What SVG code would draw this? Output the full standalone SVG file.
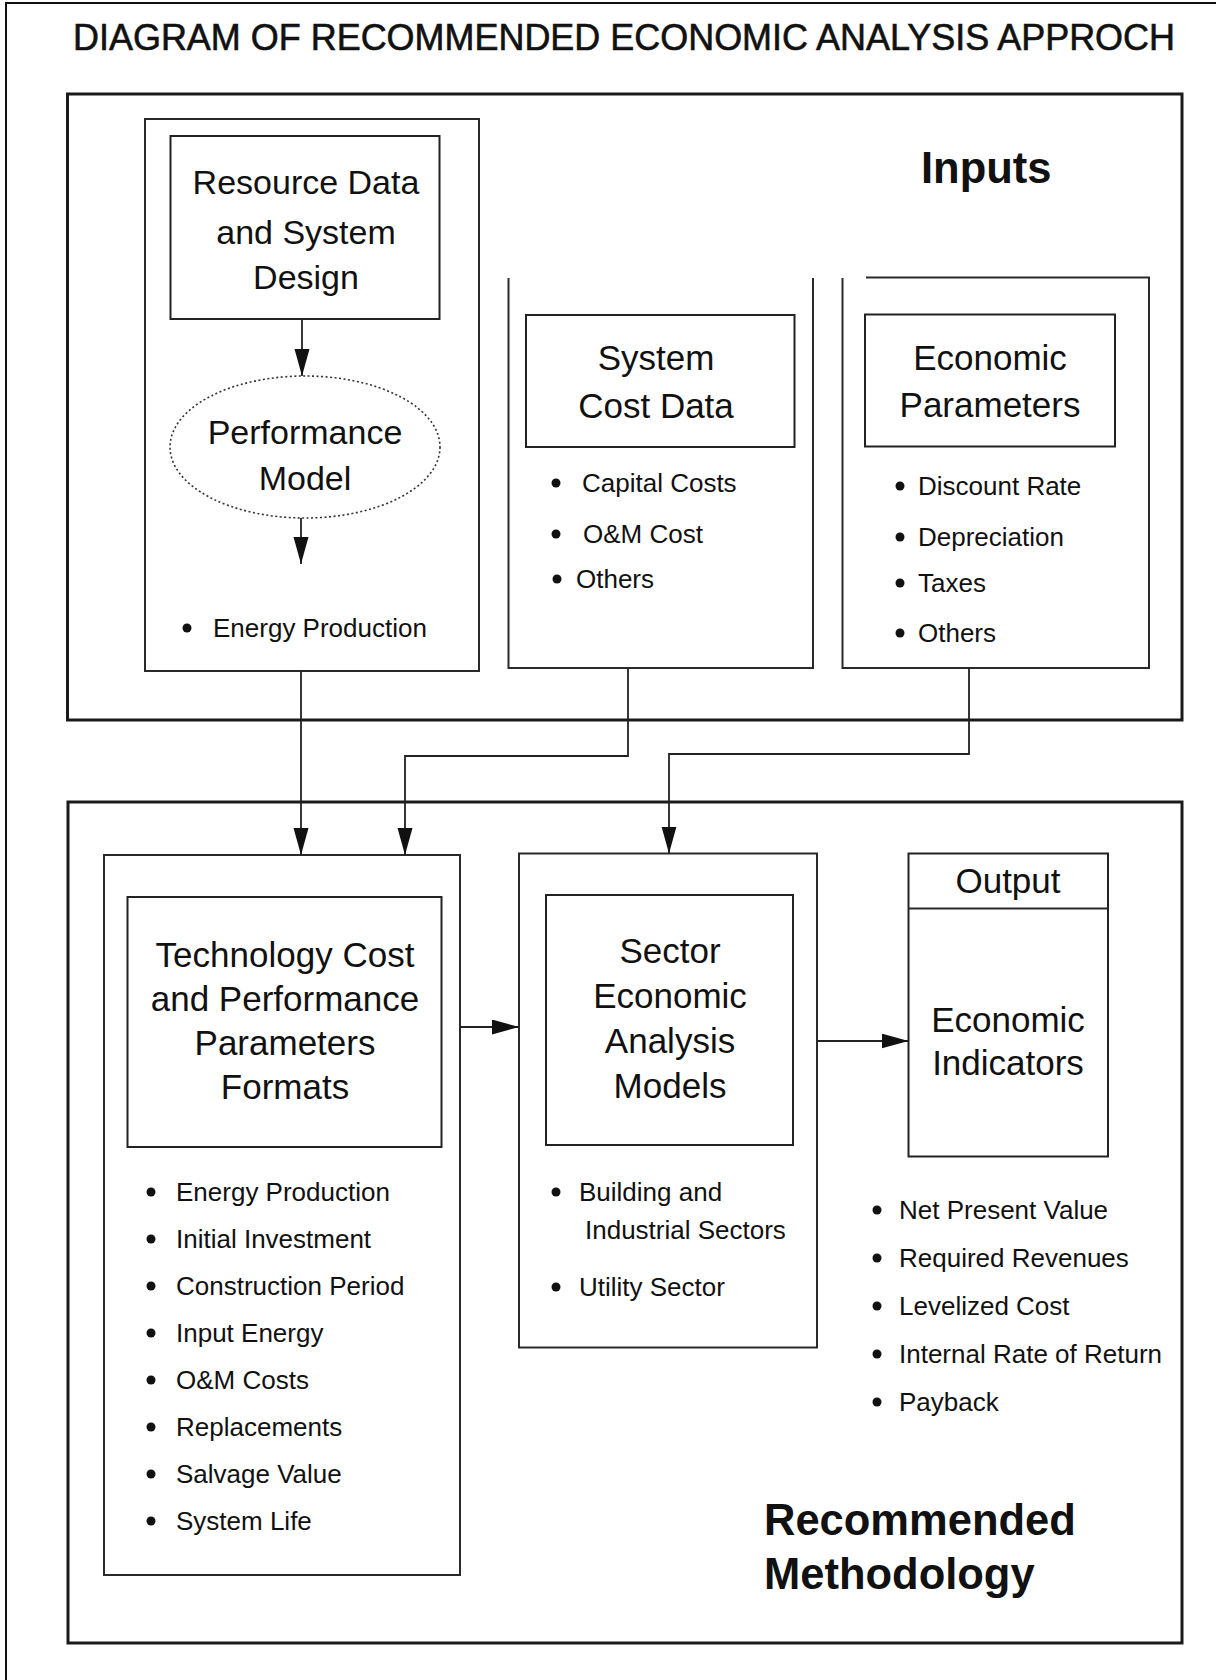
<svg xmlns="http://www.w3.org/2000/svg" width="1216" height="1680" viewBox="0 0 1216 1680">
  <defs>
    <style>
      .bg { fill: #ffffff; }
      .frame { fill: none; stroke: #111; stroke-width: 2; }
      .panel { fill: none; stroke: #1a1a1a; stroke-width: 3; }
      .col { fill: none; stroke: #2a2a2a; stroke-width: 2; }
      .box { fill: #ffffff; stroke: #222; stroke-width: 2; }
      .oval { fill: #ffffff; stroke: #333; stroke-width: 1.6; stroke-dasharray: 2 2.5; }
      .wire { fill: none; stroke: #222; stroke-width: 1.8; }
      text { font-family: "Liberation Sans", Arial, Helvetica, sans-serif; fill: #111; }
      .title { font-size: 37px; stroke: #111; stroke-width: 0.6; }
      .label { font-size: 35px; text-anchor: middle; }
      .label34 { font-size: 34px; text-anchor: middle; }
      .item { font-size: 26px; }
      .head { font-size: 43.5px; font-weight: bold; }
      .dot { fill: #111; }
    </style>
    <marker id="arrow" markerUnits="userSpaceOnUse" markerWidth="28" markerHeight="16" refX="27" refY="7.5" orient="auto">
      <path d="M0,0 L27,7.5 L0,15 z" fill="#111"/>
    </marker>
  </defs>

  <rect class="bg" x="0" y="0" width="1216" height="1680"/>

  <!-- page frame (top and left edges) -->
  <path class="frame" d="M6,1680 V3 H1216"/>

  <text class="title" x="73" y="50" textLength="1102" lengthAdjust="spacingAndGlyphs">DIAGRAM OF RECOMMENDED ECONOMIC ANALYSIS APPROCH</text>

  <!-- Inputs panel -->
  <g id="inputs-panel">
    <rect class="panel" x="67.5" y="94" width="1114.5" height="626"/>
    <text class="head" x="921" y="183">Inputs</text>
  </g>

  <!-- Resource / performance column -->
  <g id="resource-column">
    <rect class="col" x="145" y="119" width="334" height="552"/>
    <text class="item" x="213" y="637">Energy Production</text>
    <circle class="dot" cx="187" cy="628" r="4.5"/>
  </g>
  <g id="resource-data">
    <rect class="box" x="170.5" y="136" width="269" height="183"/>
    <text class="label34" x="306" y="194">Resource Data</text>
    <text class="label34" x="306" y="244">and System</text>
    <text class="label34" x="306" y="289">Design</text>
  </g>
  <g id="performance-model">
    <ellipse class="oval" cx="305" cy="447" rx="135" ry="71"/>
    <text class="label34" x="305" y="444">Performance</text>
    <text class="label34" x="305" y="490">Model</text>
  </g>

  <!-- System cost column (open at the top) -->
  <g id="system-cost-column">
    <path class="col" d="M508.5,278 V668 H813 V278"/>
    <circle class="dot" cx="556" cy="483" r="4.5"/>
    <text class="item" x="582" y="492">Capital Costs</text>
    <circle class="dot" cx="556" cy="534" r="4.5"/>
    <text class="item" x="583" y="543">O&amp;M Cost</text>
    <circle class="dot" cx="557" cy="579" r="4.5"/>
    <text class="item" x="576" y="588">Others</text>
  </g>
  <g id="system-cost-data">
    <rect class="box" x="526" y="315" width="268.5" height="132"/>
    <text class="label" x="656" y="370">System</text>
    <text class="label" x="656" y="418">Cost Data</text>
  </g>

  <!-- Economic parameters column -->
  <g id="economic-column">
    <path class="col" d="M866,277.5 H1149 V668 H842.5 V278"/>
    <circle class="dot" cx="900" cy="486" r="4.5"/>
    <text class="item" x="918" y="495">Discount Rate</text>
    <circle class="dot" cx="900" cy="537" r="4.5"/>
    <text class="item" x="918" y="546">Depreciation</text>
    <circle class="dot" cx="900" cy="583" r="4.5"/>
    <text class="item" x="918" y="592">Taxes</text>
    <circle class="dot" cx="900" cy="633" r="4.5"/>
    <text class="item" x="918" y="642">Others</text>
  </g>
  <g id="economic-parameters">
    <rect class="box" x="865" y="314.5" width="250" height="132"/>
    <text class="label" x="990" y="370">Economic</text>
    <text class="label" x="990" y="417">Parameters</text>
  </g>

  <!-- Methodology panel -->
  <g id="methodology-panel">
    <rect class="panel" x="68" y="802" width="1114" height="841"/>
    <text class="head" x="764" y="1535">Recommended</text>
    <text class="head" x="764" y="1589">Methodology</text>
  </g>

  <!-- Technology cost column -->
  <g id="technology-column">
    <rect class="col" x="104" y="855" width="356" height="720"/>
    <circle class="dot" cx="151" cy="1192" r="4.5"/>
    <text class="item" x="176" y="1201">Energy Production</text>
    <circle class="dot" cx="151" cy="1239" r="4.5"/>
    <text class="item" x="176" y="1248">Initial Investment</text>
    <circle class="dot" cx="151" cy="1286" r="4.5"/>
    <text class="item" x="176" y="1295">Construction Period</text>
    <circle class="dot" cx="151" cy="1333" r="4.5"/>
    <text class="item" x="176" y="1342">Input Energy</text>
    <circle class="dot" cx="151" cy="1380" r="4.5"/>
    <text class="item" x="176" y="1389">O&amp;M Costs</text>
    <circle class="dot" cx="151" cy="1427" r="4.5"/>
    <text class="item" x="176" y="1436">Replacements</text>
    <circle class="dot" cx="151" cy="1474" r="4.5"/>
    <text class="item" x="176" y="1483">Salvage Value</text>
    <circle class="dot" cx="151" cy="1521" r="4.5"/>
    <text class="item" x="176" y="1530">System Life</text>
  </g>
  <g id="technology-formats">
    <rect class="box" x="127.5" y="897" width="314" height="250"/>
    <text class="label" x="285" y="967">Technology Cost</text>
    <text class="label" x="285" y="1011">and Performance</text>
    <text class="label" x="285" y="1055">Parameters</text>
    <text class="label" x="285" y="1099">Formats</text>
  </g>

  <!-- Sector analysis column -->
  <g id="sector-column">
    <rect class="col" x="519" y="853.5" width="298" height="494"/>
    <circle class="dot" cx="556" cy="1192" r="4.5"/>
    <text class="item" x="579" y="1201">Building and</text>
    <text class="item" x="585" y="1239">Industrial Sectors</text>
    <circle class="dot" cx="556" cy="1287" r="4.5"/>
    <text class="item" x="579" y="1296">Utility Sector</text>
  </g>
  <g id="sector-models">
    <rect class="box" x="546" y="895" width="247" height="250"/>
    <text class="label" x="670" y="963">Sector</text>
    <text class="label" x="670" y="1008">Economic</text>
    <text class="label" x="670" y="1053">Analysis</text>
    <text class="label" x="670" y="1098">Models</text>
  </g>

  <!-- Output -->
  <g id="output">
    <rect class="box" x="908.5" y="853.5" width="199.5" height="303"/>
    <line class="col" x1="908.5" y1="908.5" x2="1108" y2="908.5"/>
    <text class="label" x="1008" y="893">Output</text>
    <text class="label" x="1008" y="1032">Economic</text>
    <text class="label" x="1008" y="1075">Indicators</text>
  </g>
  <g id="output-list">
    <circle class="dot" cx="877" cy="1210" r="4.5"/>
    <text class="item" x="899" y="1219">Net Present Value</text>
    <circle class="dot" cx="877" cy="1258" r="4.5"/>
    <text class="item" x="899" y="1267">Required Revenues</text>
    <circle class="dot" cx="877" cy="1306" r="4.5"/>
    <text class="item" x="899" y="1315">Levelized Cost</text>
    <circle class="dot" cx="877" cy="1354" r="4.5"/>
    <text class="item" x="899" y="1363">Internal Rate of Return</text>
    <circle class="dot" cx="877" cy="1402" r="4.5"/>
    <text class="item" x="899" y="1411">Payback</text>
  </g>

  <!-- connectors -->
  <g id="connectors">
    <path class="wire" d="M302,319 V376" marker-end="url(#arrow)"/>
    <path class="wire" d="M301,518 V564" marker-end="url(#arrow)"/>
    <path class="wire" d="M301,671 V855" marker-end="url(#arrow)"/>
    <path class="wire" d="M628,668 V756 H405 V855" marker-end="url(#arrow)"/>
    <path class="wire" d="M969,668 V754 H669 V853.5" marker-end="url(#arrow)"/>
    <path class="wire" d="M460,1027 H519" marker-end="url(#arrow)"/>
    <path class="wire" d="M817,1041 H908.5" marker-end="url(#arrow)"/>
  </g>
</svg>
